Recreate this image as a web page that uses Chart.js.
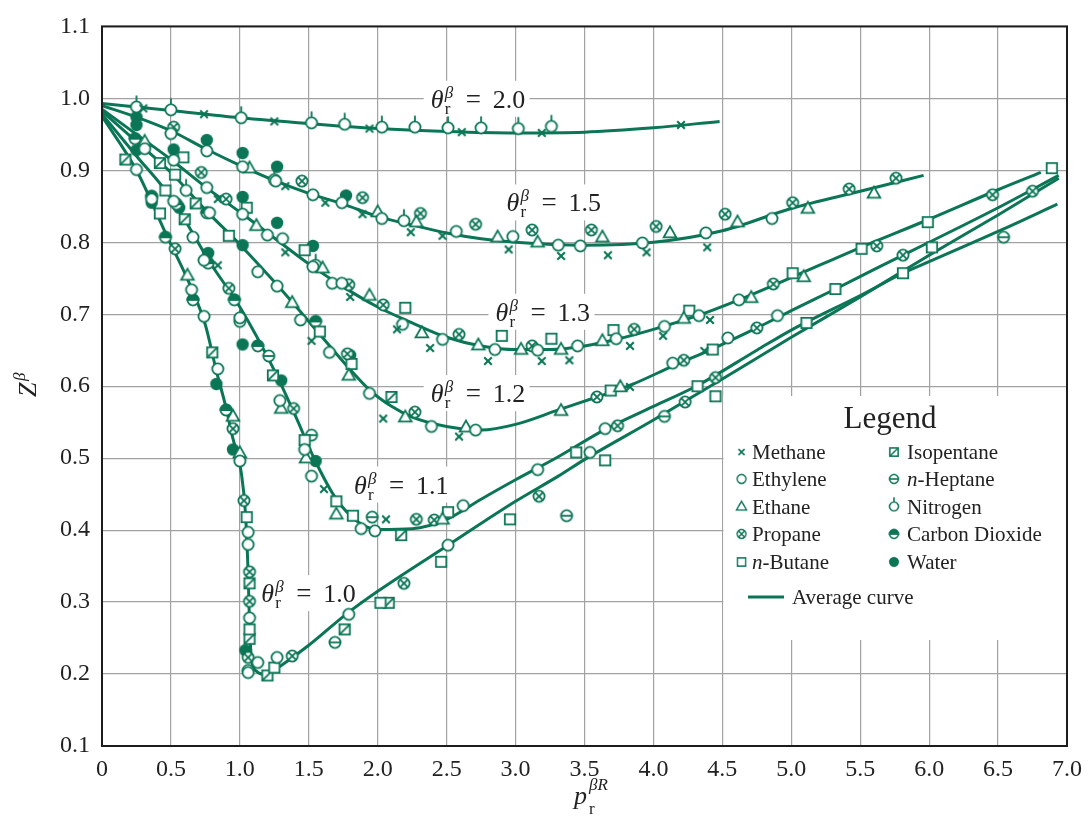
<!DOCTYPE html>
<html><head><meta charset="utf-8">
<script src="https://cdn.jsdelivr.net/npm/chart.js@4.4.0/dist/chart.umd.min.js"></script>
<style>html,body{margin:0;padding:0;background:#fff;}#wrap{width:1091px;height:821px;}</style>
</head><body><div id="wrap"><canvas id="c" width="1091" height="821"></canvas></div>
<script>
// ---------- tick labels ----------
const xTickLabels = ['0','0.5','1.0','1.5','2.0','2.5','3.0','3.5','4.0','4.5','5.0','5.5','6.0','6.5','7.0'];
const yTickLabels = ['0.1','0.2','0.3','0.4','0.5','0.6','0.7','0.8','0.9','1.0','1.1'];
const curveNames = ['2.0','1.5','1.3','1.2','1.1','1.0'];

// ---------- average curves (p, Z) ----------
const curve20 = [[0,0.993],[0.25,0.988],[0.5,0.983],[1.0,0.973],[1.5,0.965],[2.0,0.958],[2.5,0.954],[3.0,0.952],[3.5,0.953],[4.0,0.959],[4.48,0.968]];
const curve15 = [[0,0.99],[0.25,0.974],[0.5,0.955],[0.75,0.93],[1.0,0.907],[1.25,0.886],[1.5,0.868],[1.75,0.853],[2.0,0.836],[2.25,0.824],[2.5,0.813],[2.75,0.805],[3.0,0.80],[3.5,0.796],[4.0,0.80],[4.5,0.816],[5.0,0.847],[5.5,0.871],[5.96,0.893]];
const curve13 = [[0,0.985],[0.25,0.95],[0.5,0.915],[0.75,0.877],[1.0,0.842],[1.25,0.806],[1.5,0.77],[1.75,0.738],[2.0,0.71],[2.25,0.688],[2.5,0.668],[2.75,0.656],[3.0,0.651],[3.25,0.651],[3.5,0.656],[3.75,0.666],[4.0,0.679],[4.32,0.698],[4.62,0.72],[5.0,0.751],[5.48,0.791],[6.0,0.832],[6.5,0.873],[6.81,0.897]];
const curve12 = [[0,0.982],[0.25,0.94],[0.5,0.897],[0.75,0.845],[1.0,0.797],[1.25,0.745],[1.5,0.69],[1.75,0.634],[1.94,0.595],[2.1,0.572],[2.25,0.557],[2.5,0.544],[2.75,0.539],[3.0,0.547],[3.31,0.567],[3.59,0.585],[3.84,0.602],[4.14,0.628],[4.43,0.652],[4.75,0.681],[5.0,0.705],[5.31,0.734],[5.62,0.764],[6.0,0.80],[6.5,0.848],[6.94,0.893]];
const curve11 = [[0,0.978],[0.25,0.92],[0.5,0.862],[0.66,0.812],[0.78,0.773],[1.0,0.71],[1.25,0.622],[1.4,0.56],[1.55,0.495],[1.7,0.443],[1.86,0.411],[2.0,0.401],[2.25,0.402],[2.5,0.415],[2.75,0.443],[3.0,0.47],[3.31,0.502],[3.65,0.54],[4.0,0.572],[4.32,0.601],[4.75,0.65],[5.0,0.678],[5.5,0.726],[5.81,0.757],[6.0,0.773],[6.5,0.815],[6.93,0.853]];
const curve10 = [[0,0.975],[0.25,0.9],[0.47,0.809],[0.64,0.74],[0.75,0.685],[0.83,0.621],[0.9,0.57],[0.95,0.527],[0.985,0.503],[1.01,0.48],[1.04,0.425],[1.06,0.34],[1.07,0.27],[1.085,0.22],[1.12,0.204],[1.19,0.199],[1.3,0.212],[1.5,0.24],[1.77,0.283],[2.0,0.315],[2.51,0.379],[3.0,0.44],[3.31,0.475],[3.5,0.498],[4.0,0.553],[4.5,0.61],[5.0,0.668],[5.5,0.724],[6.0,0.782],[6.5,0.838],[6.94,0.889]];

// ---------- experimental points (p, Z) ----------
const methane = [[0.3,0.986],[0.74,0.978],[1.25,0.968],[1.94,0.958],[2.61,0.953],[3.19,0.952],[4.2,0.963],[0.84,0.86],[1.33,0.878],[1.62,0.855],[1.89,0.839],[2.24,0.814],[2.47,0.809],[2.95,0.79],[3.33,0.781],[3.67,0.782],[3.95,0.786],[4.39,0.793],[1.33,0.786],[1.8,0.724],[2.14,0.679],[2.38,0.653],[2.8,0.635],[3.19,0.635],[3.39,0.636],[3.83,0.656],[4.07,0.67],[4.41,0.692],[0.84,0.768],[1.52,0.663],[2.04,0.555],[2.59,0.53],[3.83,0.599],[4.37,0.649],[1.61,0.457],[2.06,0.415]];
const ethylene = [[0.5,0.951],[0.76,0.927],[1.02,0.905],[1.26,0.885],[1.53,0.866],[1.74,0.855],[2.03,0.833],[2.57,0.815],[2.98,0.808],[3.31,0.796],[3.47,0.795],[3.92,0.799],[4.38,0.813],[4.86,0.833],
  [0.52,0.914],[0.76,0.876],[1.02,0.839],[1.2,0.81],[1.31,0.805],[1.53,0.766],[1.67,0.743],[1.74,0.743],[2.18,0.686],[2.47,0.665],[2.85,0.651],[3.16,0.65],[3.45,0.656],[3.73,0.666],[4.08,0.683],[4.33,0.698],[4.62,0.72],
  [0.31,0.93],[0.78,0.841],[1.13,0.759],[1.27,0.739],[1.44,0.692],[1.65,0.647],[1.94,0.59],[2.39,0.544],[2.71,0.539],[4.14,0.632],[4.54,0.667],[4.9,0.698],
  [0.52,0.857],[0.66,0.807],[0.74,0.775],[1.0,0.695],[1.29,0.58],[1.47,0.512],[1.52,0.475],[1.88,0.402],[1.98,0.399],[2.62,0.434],[3.16,0.484],[3.65,0.541],
  [0.25,0.901],[0.36,0.86],[0.65,0.734],[0.74,0.697],[0.84,0.624],[1.0,0.496],[1.06,0.397],[1.06,0.38],[1.07,0.278],[1.06,0.202],[1.13,0.216],[1.27,0.223],[1.79,0.283],[2.51,0.379],[3.54,0.508]];
const ethane = [[1.07,0.903],[2.0,0.842],[2.28,0.828],[2.87,0.807],[3.16,0.80],[3.63,0.807],[4.12,0.813],[4.61,0.828],[5.12,0.847],[5.6,0.868],
  [0.31,0.94],[1.12,0.823],[1.6,0.764],[1.94,0.726],[2.32,0.674],[2.73,0.657],[3.04,0.651],[3.33,0.651],[3.63,0.663],[4.22,0.694],[4.71,0.723],[5.09,0.752],
  [1.38,0.716],[1.79,0.615],[2.2,0.557],[2.64,0.543],[3.33,0.566],[3.76,0.599],
  [1.3,0.569],[1.48,0.5],[1.7,0.422],[2.47,0.415],
  [0.62,0.754],[0.95,0.558],[1.0,0.507]];
const propane = [[0.52,0.96],[1.45,0.885],[1.89,0.862],[2.31,0.84],[2.71,0.825],[3.12,0.817],[3.55,0.817],[4.02,0.822],[4.52,0.839],[5.01,0.855],[5.42,0.874],[5.76,0.889],
  [0.72,0.897],[0.9,0.86],[1.79,0.741],[2.04,0.713],[2.59,0.672],[3.12,0.656],[3.86,0.679],[4.87,0.742],[5.62,0.795],[6.46,0.866],
  [0.92,0.736],[1.78,0.645],[2.27,0.564],[3.59,0.585],[4.22,0.636],[4.75,0.681],[5.81,0.782],[6.75,0.871],
  [1.39,0.569],[2.28,0.415],[2.41,0.414],[3.17,0.447],[3.74,0.545],[4.45,0.612],
  [0.53,0.791],[0.95,0.541],[1.03,0.441],[1.07,0.342],[1.07,0.301],[1.06,0.223],[1.38,0.225],[2.19,0.326],[4.23,0.578]];
const butane = [[0.59,0.918],[0.53,0.894],[0.46,0.872],[0.42,0.84],[1.05,0.848],[1.47,0.789],[2.2,0.709],[2.9,0.67],[3.26,0.666],[3.71,0.678],[4.26,0.705],[5.01,0.757],[5.51,0.791],[5.99,0.828],[6.89,0.903],
  [0.92,0.809],[1.58,0.676],[1.81,0.631],[3.69,0.594],[4.43,0.651],[5.32,0.735],[6.02,0.793],
  [1.47,0.525],[1.7,0.44],[1.82,0.42],[2.51,0.425],[2.96,0.415],[3.44,0.508],[4.32,0.60],[5.11,0.688],[5.81,0.757],
  [1.05,0.418],[1.07,0.262],[1.25,0.209],[2.02,0.299],[2.46,0.356],[3.65,0.497],[4.45,0.586]];
const isopentane = [[0.17,0.915],[0.42,0.91],[0.68,0.854],[0.6,0.832],[0.8,0.647],[1.24,0.615],[2.1,0.585],[1.07,0.326],[1.07,0.249],[1.2,0.198],[2.08,0.299],[1.76,0.262],[2.17,0.393]];
const heptane = [[1.52,0.532],[1.96,0.418],[1.69,0.244],[1.06,0.205],[4.08,0.558],[6.54,0.807],[1.21,0.642],[3.37,0.42]];
const nitrogen = [[0.25,0.988],[0.5,0.984],[1.01,0.973],[1.52,0.966],[1.76,0.964],[2.03,0.96],[2.27,0.96],[2.51,0.959],[2.75,0.959],[3.02,0.958],[3.26,0.961],[1.25,0.887],[2.19,0.83],[0.61,0.872],[1.55,0.768],[1.0,0.69]];
const co2 = [[0.24,0.944],[0.36,0.864],[0.54,0.853],[0.76,0.841],[0.46,0.807],[0.66,0.72],[0.96,0.72],[0.77,0.771],[1.13,0.656],[1.55,0.69],[0.9,0.567]];
const water = [[0.25,0.974],[0.25,0.963],[0.76,0.942],[1.02,0.924],[1.27,0.905],[1.77,0.865],[0.52,0.929],[0.25,0.928],[1.02,0.863],[1.27,0.827],[1.53,0.795],[1.02,0.796],[0.77,0.785],[0.36,0.855],[0.56,0.848],[1.02,0.658],[1.8,0.643],[0.83,0.603],[0.95,0.512],[1.3,0.608],[1.55,0.496],[1.04,0.233]];

// ---------- styling ----------
const GREEN = '#0b7656';
const TEXT = '#222222';
const SERIF = '"Liberation Serif","Times New Roman",serif';

function makeMarker(type) {
  const W = 22, H = type === 'nitrogen' ? 38 : 22;
  const c = document.createElement('canvas'); c.width = W; c.height = H;
  const g = c.getContext('2d');
  g.translate(W / 2, H / 2);
  g.strokeStyle = GREEN; g.fillStyle = '#fff'; g.lineWidth = 1.8;
  const r = 5.6;
  const circ = (fill) => { g.beginPath(); g.arc(0, 0, r, 0, 2 * Math.PI); g.fillStyle = fill; g.fill(); g.stroke(); };
  const d = r * 0.70;
  switch (type) {
    case 'cross':
      g.lineWidth = 2.1; g.beginPath();
      g.moveTo(-3.8, -3.8); g.lineTo(3.8, 3.8); g.moveTo(3.8, -3.8); g.lineTo(-3.8, 3.8); g.stroke(); break;
    case 'circle': circ('#fff'); break;
    case 'triangle':
      g.beginPath(); g.moveTo(0, -6.6); g.lineTo(6.3, 4.3); g.lineTo(-6.3, 4.3); g.closePath(); g.fill(); g.stroke(); break;
    case 'oplus':
      circ('#fff'); g.beginPath(); g.moveTo(-d, -d); g.lineTo(d, d); g.moveTo(d, -d); g.lineTo(-d, d); g.stroke(); break;
    case 'square':
      g.beginPath(); g.rect(-5.2, -5.2, 10.4, 10.4); g.fill(); g.stroke(); break;
    case 'squarediag':
      g.beginPath(); g.rect(-5.2, -5.2, 10.4, 10.4); g.fill(); g.stroke();
      g.beginPath(); g.moveTo(-5.2, 5.2); g.lineTo(5.2, -5.2); g.stroke(); break;
    case 'ominus':
      circ('#fff'); g.beginPath(); g.moveTo(-r, 0); g.lineTo(r, 0); g.stroke(); break;
    case 'nitrogen':
      circ('#fff'); g.beginPath(); g.moveTo(0, -r); g.lineTo(0, -r - 6); g.stroke(); break;
    case 'half':
      circ('#fff'); g.beginPath(); g.arc(0, 0, r, Math.PI, 2 * Math.PI); g.closePath(); g.fillStyle = GREEN; g.fill(); g.stroke(); break;
    case 'filled':
      g.beginPath(); g.arc(0, 0, 6.2, 0, 2 * Math.PI); g.fillStyle = GREEN; g.fill(); break;
  }
  return c;
}

const series = [
  {name: 'Methane', data: methane, m: 'cross'},
  {name: 'Ethylene', data: ethylene, m: 'circle'},
  {name: 'Ethane', data: ethane, m: 'triangle'},
  {name: 'Propane', data: propane, m: 'oplus'},
  {name: 'n-Butane', data: butane, m: 'square'},
  {name: 'Isopentane', data: isopentane, m: 'squarediag'},
  {name: 'n-Heptane', data: heptane, m: 'ominus'},
  {name: 'Nitrogen', data: nitrogen, m: 'nitrogen'},
  {name: 'Carbon Dioxide', data: co2, m: 'half'},
  {name: 'Water', data: water, m: 'filled'}
];
series.forEach(s => s.img = makeMarker(s.m));

const curves = [curve20, curve15, curve13, curve12, curve11, curve10];
// label anchors (left edge of θ, vertical centre) in data units – layout only
const labelAnchors = [[2.384, 0.998], [2.934, 0.854], [2.854, 0.702], [2.384, 0.589], [1.828, 0.462], [1.156, 0.311]];

const toXY = arr => arr.map(p => ({x: p[0], y: p[1]}));

const datasets = [];
series.forEach(s => datasets.push({
  label: s.name, data: toXY(s.data), showLine: false,
  pointStyle: s.img, pointRadius: 6, pointHoverRadius: 6, order: 0
}));
curves.forEach((c, i) => datasets.push({
  label: 'θ = ' + curveNames[i], data: toXY(c), showLine: true,
  borderColor: GREEN, borderWidth: 3, pointRadius: 0, pointHoverRadius: 0,
  cubicInterpolationMode: 'monotone', fill: false, order: 1
}));

function drawCurveLabel(ctx, x0, yc, value) {
  ctx.save();
  ctx.textAlign = 'left'; ctx.textBaseline = 'alphabetic'; ctx.fillStyle = TEXT;
  ctx.font = 'italic 26px ' + SERIF; ctx.fillText('θ', x0, yc + 8);
  ctx.font = 'italic 17px ' + SERIF; ctx.fillText('β', x0 + 14, yc - 2);
  ctx.font = '17px ' + SERIF; ctx.fillText('r', x0 + 14, yc + 14);
  ctx.font = '27px ' + SERIF; ctx.fillText('=', x0 + 35, yc + 8);
  ctx.font = '26px ' + SERIF; ctx.fillText(value, x0 + 62, yc + 8);
  ctx.restore();
}

const decorPlugin = {
  id: 'decor',
  beforeDatasetsDraw(chart) {
    const ctx = chart.ctx, xs = chart.scales.x, ys = chart.scales.y;
    ctx.save();
    ctx.fillStyle = '#fff';
    labelAnchors.forEach(a => {
      const x0 = xs.getPixelForValue(a[0]), yc = ys.getPixelForValue(a[1]);
      ctx.fillRect(x0 - 7, yc - 19, 106, 36);
    });
    const lx = xs.getPixelForValue(4.5) + 1, ly = 396;
    ctx.fillRect(lx, ly, chart.chartArea.right - lx, 244);
    ctx.restore();
  },
  afterDatasetsDraw(chart) {
    const ctx = chart.ctx, xs = chart.scales.x, ys = chart.scales.y;
    labelAnchors.forEach((a, i) => {
      drawCurveLabel(ctx, xs.getPixelForValue(a[0]), ys.getPixelForValue(a[1]), curveNames[i]);
    });
    ctx.save();
    ctx.fillStyle = TEXT; ctx.textBaseline = 'alphabetic';
    ctx.font = '31px ' + SERIF; ctx.textAlign = 'center';
    ctx.fillText('Legend', 890, 428);
    ctx.textAlign = 'left';
    const rows = [452, 479, 506.5, 534, 562];
    series.forEach((s, i) => {
      const col = i < 5 ? 0 : 1, row = i % 5;
      const mx = col ? 894 : 741.5, tx = col ? 907 : 752, y = rows[row];
      const sc = 0.8, w = s.img.width * sc, h = s.img.height * sc;
      ctx.drawImage(s.img, mx - w / 2, y - h / 2, w, h);
      ctx.font = '21px ' + SERIF;
      if (s.name.startsWith('n-')) {
        ctx.font = 'italic 21px ' + SERIF; ctx.fillText('n', tx, y + 7);
        const nw = ctx.measureText('n').width;
        ctx.font = '21px ' + SERIF; ctx.fillText(s.name.slice(1), tx + nw, y + 7);
      } else {
        ctx.fillText(s.name, tx, y + 7);
      }
    });
    ctx.strokeStyle = GREEN; ctx.lineWidth = 3;
    ctx.beginPath(); ctx.moveTo(748, 597); ctx.lineTo(784, 597); ctx.stroke();
    ctx.font = '21px ' + SERIF; ctx.fillText('Average curve', 792, 604);
    ctx.restore();
  },
  afterDraw(chart) {
    const ctx = chart.ctx, a = chart.chartArea;
    ctx.save();
    ctx.strokeStyle = '#1c1c1c'; ctx.lineWidth = 2;
    ctx.strokeRect(a.left, a.top, a.right - a.left, a.bottom - a.top);
    ctx.fillStyle = TEXT; ctx.textAlign = 'left'; ctx.textBaseline = 'alphabetic';
    ctx.font = 'italic 26px ' + SERIF; ctx.fillText('p', 574, 804);
    ctx.font = 'italic 17px ' + SERIF; ctx.fillText('βR', 589, 790);
    ctx.font = '17px ' + SERIF; ctx.fillText('r', 589, 814);
    ctx.translate(29, 387); ctx.rotate(-Math.PI / 2);
    ctx.font = 'italic 26px ' + SERIF; ctx.fillText('Z', -10, 7);
    ctx.font = 'italic 17px ' + SERIF; ctx.fillText('β', 6, -4);
    ctx.restore();
  }
};

new Chart(document.getElementById('c'), {
  type: 'line',
  data: {datasets},
  options: {
    responsive: false, animation: false, devicePixelRatio: 1,
    layout: {padding: {top: 18, right: 20, left: 0, bottom: 0}},
    plugins: {legend: {display: false}, tooltip: {enabled: false}},
    events: [],
    scales: {
      x: {
        type: 'linear', min: 0, max: 7,
        afterFit: s => { s.height = 75; },
        grid: {color: '#a2a2a2', lineWidth: 1.2, drawTicks: false},
        border: {display: false},
        ticks: {stepSize: 0.5, autoSkip: false, maxRotation: 0, padding: 9, color: TEXT,
          font: {family: SERIF, size: 24},
          callback: (v, i) => xTickLabels[i]}
      },
      y: {
        type: 'linear', min: 0.1, max: 1.1,
        afterFit: s => { s.width = 102; },
        grid: {color: '#a2a2a2', lineWidth: 1.2, drawTicks: false},
        border: {display: false},
        ticks: {stepSize: 0.1, autoSkip: false, padding: 12, color: TEXT,
          font: {family: SERIF, size: 24},
          callback: (v, i) => yTickLabels[i]}
      }
    }
  },
  plugins: [decorPlugin]
});
</script>
</body></html>
